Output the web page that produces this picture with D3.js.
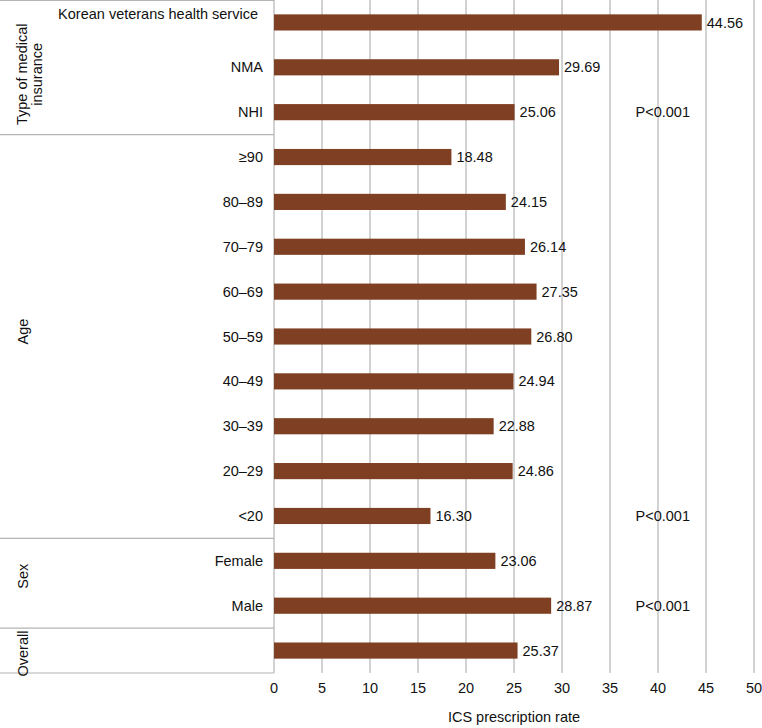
<!DOCTYPE html>
<html><head><meta charset="utf-8">
<script src="https://cdn.jsdelivr.net/npm/d3@7"></script>
<style>body{margin:0;background:#fff}svg{display:block;font-family:"Liberation Sans",Arial,Helvetica,sans-serif}</style>
</head><body><svg id="c" width="762" height="728"></svg>
<script>
const categories = ["Korean veterans health service","NMA","NHI","≥90","80–89","70–79","60–69","50–59","40–49","30–39","20–29","<20","Female","Male",""];
const values = [44.56,29.69,25.06,18.48,24.15,26.14,27.35,26.80,24.94,22.88,24.86,16.30,23.06,28.87,25.37];
const pLabels = ["","","P<0.001","","","","","","","","","P<0.001","","P<0.001",""];
const groups = ["Type of medical insurance","Age","Sex","Overall"];
const groupStart = [0,3,12,14];
const groupEnd = [2,11,13,14];
const xTicks = [0,5,10,15,20,25,30,35,40,45,50];
const pValueX = 40.5;

const svg = d3.select("#c");
const mLeft = 274, mRight = 754, mTop = 0, mBottom = 673;
const fs = 14.5;
const x = d3.scaleLinear().domain([0,50]).range([mLeft,mRight]);
const y = d3.scaleBand().domain(d3.range(categories.length)).range([mTop,mBottom]).paddingInner(0.64).paddingOuter(0.32);
const step = y.step();
const grid = "#b4b4b4";

// gridlines
svg.append("g").selectAll("line").data(xTicks).join("line")
  .attr("x1",d=>x(d)).attr("x2",d=>x(d)).attr("y1",mTop).attr("y2",mBottom)
  .attr("stroke",grid).attr("stroke-width",1.2);

// table box on left
const rowEdge = i => mTop + i*step;
svg.append("line").attr("x1",0).attr("x2",mLeft).attr("y1",0.5).attr("y2",0.5).attr("stroke",grid).attr("stroke-width",1.2);
svg.append("line").attr("x1",0).attr("x2",mLeft).attr("y1",mBottom).attr("y2",mBottom).attr("stroke",grid).attr("stroke-width",1.2);
svg.append("g").selectAll("line").data(groupEnd.slice(0,-1)).join("line")
  .attr("x1",0).attr("x2",mLeft).attr("y1",d=>rowEdge(d+1)).attr("y2",d=>rowEdge(d+1))
  .attr("stroke",grid).attr("stroke-width",1.2);

// bars
svg.append("g").selectAll("rect").data(values).join("rect")
  .attr("x",x(0)).attr("y",(d,i)=>y(i)).attr("width",d=>x(d)-x(0)).attr("height",y.bandwidth())
  .attr("fill","#7f3f22");

// value labels
svg.append("g").selectAll("text").data(values).join("text")
  .attr("x",d=>x(d)+5).attr("y",(d,i)=>y(i)+y.bandwidth()/2).attr("dy","0.35em")
  .attr("font-size",fs).attr("fill","#111").text(d=>d.toFixed(2));

// p labels
svg.append("g").selectAll("text").data(pLabels).join("text")
  .attr("x",x(pValueX)).attr("y",(d,i)=>y(i)+y.bandwidth()/2).attr("dy","0.35em")
  .attr("text-anchor","middle").attr("font-size",fs).attr("fill","#111").text(d=>d);

// category labels
svg.append("g").selectAll("text").data(categories).join("text")
  .attr("x",(d,i)=>i===0?258:263).attr("y",(d,i)=>y(i)+y.bandwidth()/2 - (i===0?9:0)).attr("dy","0.35em")
  .attr("text-anchor","end").attr("font-size",fs).attr("fill","#111").text(d=>d);

// group labels
const nudge = [7,-5,-7,3];
groups.forEach((g,gi)=>{
  const cy = (rowEdge(groupStart[gi]) + rowEdge(groupEnd[gi]+1))/2 + nudge[gi];
  const t = svg.append("text").attr("transform",`translate(${gi===0?30:23},${cy}) rotate(-90)`)
    .attr("text-anchor","middle").attr("font-size",fs).attr("fill","#111");
  if(gi===0){
    t.append("tspan").attr("x",0).attr("dy","-0.2em").text("Type of medical");
    t.append("tspan").attr("x",0).attr("dy","1.05em").text("insurance");
  } else {
    t.attr("dy","0.35em").text(g);
  }
});

// x tick labels
svg.append("g").selectAll("text").data(xTicks).join("text")
  .attr("x",d=>x(d)).attr("y",693).attr("text-anchor","middle")
  .attr("font-size",fs).attr("fill","#111").text(d=>d);

svg.append("text").attr("x",(mLeft+mRight)/2).attr("y",722).attr("text-anchor","middle")
  .attr("font-size",fs).attr("fill","#111").text("ICS prescription rate");
</script></body></html>
